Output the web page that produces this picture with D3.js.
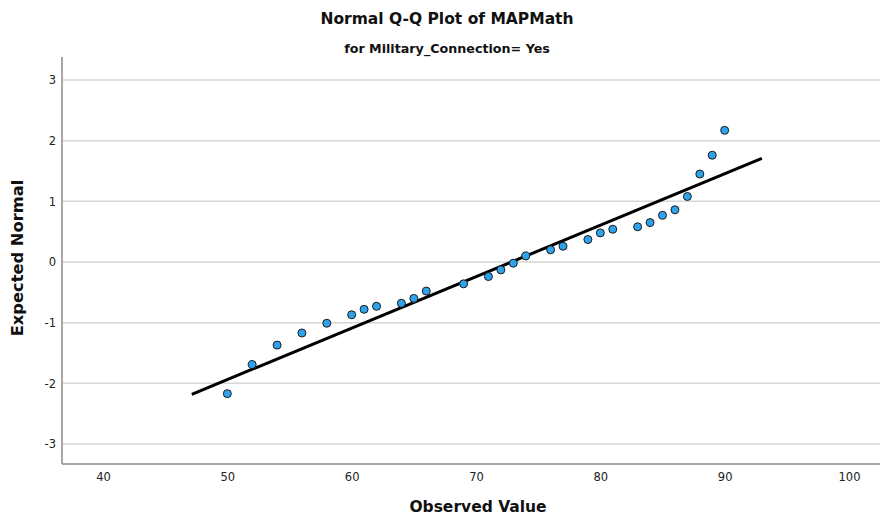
<!DOCTYPE html>
<html>
<head>
<meta charset="utf-8">
<script src="https://cdn.jsdelivr.net/npm/d3@7"></script>
<style>
  html, body { margin: 0; padding: 0; background: #fff; }
  svg { display: block; }
  .tick-label { font-family: "DejaVu Sans", "Liberation Sans", sans-serif; font-size: 11.5px; fill: #222; }
  .axis-title { font-family: "DejaVu Sans", "Liberation Sans", sans-serif; font-weight: bold; fill: #111; }
  .title { font-family: "DejaVu Sans", "Liberation Sans", sans-serif; font-weight: bold; font-size: 15.5px; fill: #111; }
  .subtitle { font-family: "DejaVu Sans", "Liberation Sans", sans-serif; font-weight: bold; font-size: 12.7px; fill: #111; }
</style>
</head>
<body>
<svg id="chart" width="880" height="518"></svg>
<script>
// Observed MAPMath scores (sorted) and their expected normal quantiles
const observed = [50, 52, 54, 56, 58, 60, 61, 62, 64, 65, 66, 69, 71, 72, 73, 74, 76, 77, 79, 80, 81, 83, 84, 85, 86, 87, 88, 89, 90];
const expected = [-2.17, -1.69, -1.37, -1.17, -1.01, -0.87, -0.78, -0.73, -0.68, -0.60, -0.48, -0.36, -0.24, -0.13, -0.02, 0.10, 0.20, 0.26, 0.37, 0.48, 0.54, 0.58, 0.65, 0.77, 0.86, 1.08, 1.45, 1.76, 2.17];

// Reference line: expected = (observed - mean) / sd
const refMean = 72.85;
const refSD = 11.79;
const refRange = [47.14, 92.99];

const xTicks = [40, 50, 60, 70, 80, 90, 100];
const yTicks = [-3, -2, -1, 0, 1, 2, 3];

const titleText = "Normal Q-Q Plot of MAPMath";
const subtitleText = "for Military_Connection= Yes";
const xTitle = "Observed Value";
const yTitle = "Expected Normal";

const svg = d3.select("#chart");
const plot = { left: 62, right: 880, top: 57, bottom: 464 };

const x = d3.scaleLinear().domain([40, 100]).range([103, 849]);
const y = d3.scaleLinear().domain([-3, 3]).range([444, 80]);

// Horizontal gridlines
svg.append("g")
  .selectAll("line")
  .data(yTicks)
  .join("line")
  .attr("x1", plot.left + 1)
  .attr("x2", plot.right)
  .attr("y1", d => y(d))
  .attr("y2", d => y(d))
  .attr("stroke", "#d6d6d6")
  .attr("stroke-width", 1.5);

// Y axis (labels only, no tick marks)
const yAxis = d3.axisLeft(y).tickValues(yTicks).tickSize(0).tickPadding(6)
  .tickFormat(d => String(d));
const gy = svg.append("g").attr("transform", `translate(${plot.left},0)`).call(yAxis);
gy.select(".domain").remove();
gy.selectAll("text").attr("class", "tick-label").attr("font-family", null).attr("font-size", null).attr("fill", null);

// X axis (labels only)
const xAxis = d3.axisBottom(x).tickValues(xTicks).tickSize(0).tickPadding(9);
const gx = svg.append("g").attr("transform", `translate(0,${plot.bottom})`).call(xAxis);
gx.select(".domain").remove();
gx.selectAll("text").attr("class", "tick-label").attr("font-family", null).attr("font-size", null).attr("fill", null);

// Axis frame lines
svg.append("line")
  .attr("x1", plot.left).attr("x2", plot.left)
  .attr("y1", plot.top).attr("y2", plot.bottom)
  .attr("stroke", "#8a8a8a").attr("stroke-width", 1.5);
svg.append("line")
  .attr("x1", plot.left).attr("x2", plot.right)
  .attr("y1", plot.bottom).attr("y2", plot.bottom)
  .attr("stroke", "#8a8a8a").attr("stroke-width", 1.5);

// Reference line
const line = d3.line().x(d => x(d)).y(d => y((d - refMean) / refSD));
svg.append("path")
  .datum(refRange)
  .attr("d", line)
  .attr("fill", "none")
  .attr("stroke", "#000")
  .attr("stroke-width", 3);

// Points
const pts = observed.map((v, i) => ({ v, e: expected[i] }));
svg.append("g")
  .selectAll("circle")
  .data(pts)
  .join("circle")
  .attr("cx", d => x(d.v))
  .attr("cy", d => y(d.e))
  .attr("r", 4)
  .attr("fill", "#2ea3ec")
  .attr("stroke", "#1b1b1b")
  .attr("stroke-width", 1);

// Titles
svg.append("text").attr("class", "title")
  .attr("x", 447).attr("y", 24).attr("text-anchor", "middle").text(titleText);
svg.append("text").attr("class", "subtitle")
  .attr("x", 447).attr("y", 53).attr("text-anchor", "middle").text(subtitleText);
svg.append("text").attr("class", "axis-title")
  .attr("x", 478).attr("y", 512).attr("font-size", 15.5).attr("text-anchor", "middle").text(xTitle);
svg.append("text").attr("class", "axis-title")
  .attr("transform", "translate(23,258) rotate(-90)").attr("font-size", 16.3)
  .attr("text-anchor", "middle").text(yTitle);
</script>
</body>
</html>
